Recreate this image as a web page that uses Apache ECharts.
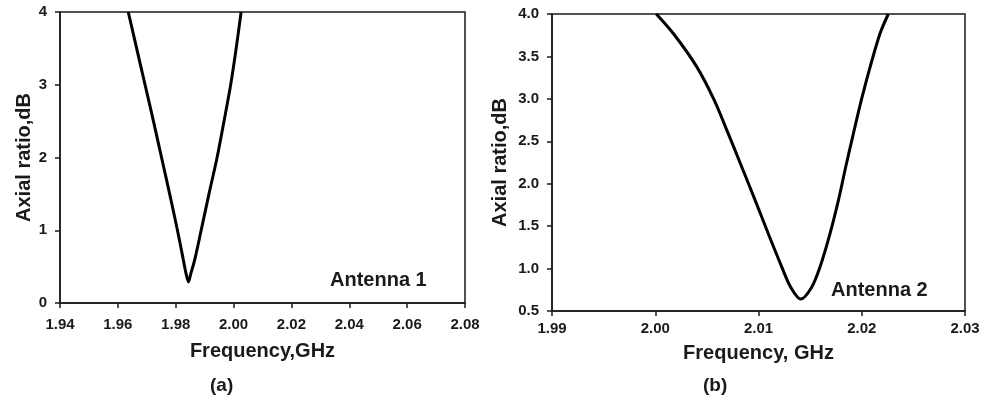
<!DOCTYPE html>
<html>
<head>
<meta charset="utf-8">
<script src="https://cdn.jsdelivr.net/npm/echarts@6/dist/echarts.min.js"></script>
<style>
  html, body { margin: 0; padding: 0; background: #fff; }
  #chart { width: 983px; height: 399px; }
</style>
</head>
<body>
<div id="chart"></div>
<script>
// Antenna 1: axial ratio vs frequency
const freqA = [1.9636, 1.9665, 1.9694, 1.9723, 1.9751, 1.9779, 1.9806, 1.9826, 1.9836, 1.9844, 1.9852, 1.9866, 1.9888, 1.9915, 1.9943, 1.9967, 1.9990, 2.0009, 2.0026];
const arA   = [4.00,   3.50,   3.00,   2.50,   2.00,   1.50,   1.00,   0.60,   0.40,   0.29,   0.40,   0.60,   1.00,   1.50,   2.00,   2.50,   3.00,   3.50,   4.00];

// Antenna 2: axial ratio vs frequency
const freqB = [2.0001, 2.00175, 2.00401, 2.00569, 2.00707, 2.00837, 2.00966, 2.01095, 2.01225, 2.01312, 2.01409, 2.01515, 2.01596, 2.01692, 2.01775, 2.01845, 2.01919, 2.01997, 2.02082, 2.02177, 2.02257];
const arB   = [4.00,   3.77,    3.38,    2.99,    2.59,    2.20,    1.81,    1.41,    1.02,    0.78,    0.64,    0.78,    1.02,    1.41,    1.81,    2.20,    2.59,    2.99,    3.38,    3.77,    4.00];

// Axis tick settings
const xTicksA = { min: 1.94, max: 2.08, step: 0.02 };
const yTicksA = { min: 0, max: 4, step: 1 };
const xTicksB = { min: 1.99, max: 2.03, step: 0.01 };
const yTicksB = { min: 0.5, max: 4.0, step: 0.5 };

const zip = (xs, ys) => xs.map((x, i) => [x, ys[i]]);

const FONT = 'Liberation Sans, Arial, sans-serif';
const INK = '#1a1a1a';

function xAxis(idx, t, name, gap, digits, margin) {
  return {
    type: 'value', gridIndex: idx, min: t.min, max: t.max, interval: t.step,
    name: name, nameLocation: 'middle', nameGap: gap,
    nameTextStyle: { fontFamily: FONT, fontWeight: 'bold', fontSize: 20, color: INK },
    axisLine: { show: true, lineStyle: { color: INK, width: 1.5 } },
    axisTick: { show: true, length: 5, lineStyle: { color: INK, width: 1.5 } },
    axisLabel: { fontFamily: FONT, fontWeight: 'bold', fontSize: 15, color: INK, margin: margin,
                 formatter: v => v.toFixed(digits) },
    splitLine: { show: false }
  };
}

function yAxis(idx, t, name, gap, digits) {
  return {
    type: 'value', gridIndex: idx, min: t.min, max: t.max, interval: t.step,
    name: name, nameLocation: 'middle', nameGap: gap,
    nameTextStyle: { fontFamily: FONT, fontWeight: 'bold', fontSize: 20, color: INK },
    axisLine: { show: true, lineStyle: { color: INK, width: 1.5 } },
    axisTick: { show: true, length: 5, lineStyle: { color: INK, width: 1.5 } },
    axisLabel: { fontFamily: FONT, fontWeight: 'bold', fontSize: 15, color: INK, margin: 13,
                 formatter: v => v.toFixed(digits) },
    splitLine: { show: false }
  };
}

const chart = echarts.init(document.getElementById('chart'), null, { renderer: 'canvas' });

chart.setOption({
  backgroundColor: '#ffffff',
  animation: false,
  grid: [
    { left: 60, top: 12, width: 405, height: 291, show: true, borderColor: INK, borderWidth: 1.5, backgroundColor: 'transparent' },
    { left: 552, top: 14, width: 413, height: 297, show: true, borderColor: INK, borderWidth: 1.5, backgroundColor: 'transparent' }
  ],
  xAxis: [
    xAxis(0, xTicksA, 'Frequency,GHz', 38, 2, 14),
    xAxis(1, xTicksB, 'Frequency, GHz', 32, 2, 10)
  ],
  yAxis: [
    yAxis(0, yTicksA, 'Axial ratio,dB', 25, 0),
    yAxis(1, yTicksB, 'Axial ratio,dB', 42, 1)
  ],
  series: [
    {
      type: 'line', xAxisIndex: 0, yAxisIndex: 0, data: zip(freqA, arA),
      smooth: 0.3, symbol: 'none', lineStyle: { color: '#000', width: 3 }
    },
    {
      type: 'line', xAxisIndex: 1, yAxisIndex: 1, data: zip(freqB, arB),
      smooth: 0.3, symbol: 'none', lineStyle: { color: '#000', width: 3 }
    }
  ],
  graphic: [
    { type: 'text', left: 330, top: 270, style: { text: 'Antenna 1', font: 'bold 20px ' + FONT, fill: INK } },
    { type: 'text', left: 831, top: 280, style: { text: 'Antenna 2', font: 'bold 20px ' + FONT, fill: INK } },
    { type: 'text', left: 210, top: 376, style: { text: '(a)', font: 'bold 19px ' + FONT, fill: INK } },
    { type: 'text', left: 703, top: 376, style: { text: '(b)', font: 'bold 19px ' + FONT, fill: INK } }
  ]
});
</script>
</body>
</html>
